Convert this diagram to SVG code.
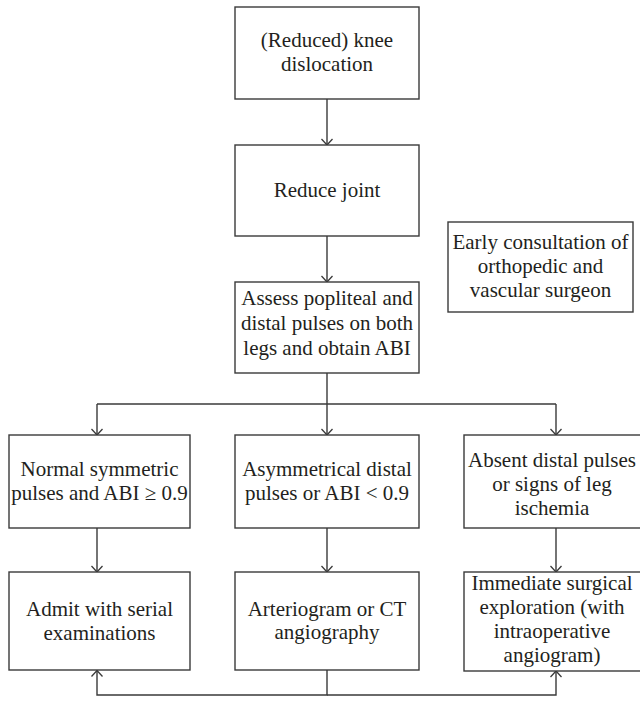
<svg xmlns="http://www.w3.org/2000/svg" width="640" height="708" viewBox="0 0 640 708">
<defs>
<marker id="arr" viewBox="0 0 8 12" markerWidth="8" markerHeight="12" refX="7" refY="6" orient="auto" markerUnits="userSpaceOnUse">
<path d="M1,0.5 L7,6 L1,11.5" fill="none" stroke="#3a3a3a" stroke-width="1.3"/>
</marker>
<style>
rect.box{fill:#fff;stroke:#3a3a3a;stroke-width:1.4}
.conn path{fill:none;stroke:#3a3a3a;stroke-width:1.4}
</style>
</defs>
<rect width="640" height="708" fill="#fff"/>
<g class="conn">
<path d="M327,99 V145" marker-end="url(#arr)"/>
<path d="M327,236 V282" marker-end="url(#arr)"/>
<path d="M327,373 V404"/>
<path d="M97,404 H556"/>
<path d="M97,404 V435" marker-end="url(#arr)"/>
<path d="M327,404 V435" marker-end="url(#arr)"/>
<path d="M556,404 V435" marker-end="url(#arr)"/>
<path d="M97,528 V572" marker-end="url(#arr)"/>
<path d="M327,528 V572" marker-end="url(#arr)"/>
<path d="M556,528 V572" marker-end="url(#arr)"/>
<path d="M327,670 V695 H97 V670.5" marker-end="url(#arr)"/>
<path d="M327,695 H556 V671" marker-end="url(#arr)"/>
</g>
<g font-family="'Liberation Serif', 'DejaVu Serif', serif" font-size="21" fill="#231f20" text-anchor="middle">
<g id="n1"><rect class="box" x="235" y="7" width="184" height="92"/>
<text x="327" y="47">(Reduced) knee</text><text x="327" y="71">dislocation</text></g>
<g id="n2"><rect class="box" x="235" y="145" width="184" height="91"/>
<text x="327" y="197">Reduce joint</text></g>
<g id="n3"><rect class="box" x="235" y="282" width="184" height="91"/>
<text x="327" y="305">Assess popliteal and</text><text x="327" y="330">distal pulses on both</text><text x="327" y="355">legs and obtain ABI</text></g>
<g id="n4"><rect class="box" x="448" y="222" width="185" height="90"/>
<text x="540.5" y="249">Early consultation of</text><text x="540.5" y="273">orthopedic and</text><text x="540.5" y="297">vascular surgeon</text></g>
<g id="n5"><rect class="box" x="9" y="435" width="181" height="93"/>
<text x="99.5" y="476">Normal symmetric</text><text x="99.5" y="500">pulses and ABI ≥ 0.9</text></g>
<g id="n6"><rect class="box" x="235" y="435" width="184" height="93"/>
<text x="327" y="476">Asymmetrical distal</text><text x="327" y="500">pulses or ABI &lt; 0.9</text></g>
<g id="n7"><rect class="box" x="464" y="435" width="200" height="93"/>
<text x="552" y="467">Absent distal pulses</text><text x="552" y="491">or signs of leg</text><text x="552" y="515">ischemia</text></g>
<g id="n8"><rect class="box" x="9" y="572" width="181" height="98"/>
<text x="99.5" y="616">Admit with serial</text><text x="99.5" y="640">examinations</text></g>
<g id="n9"><rect class="box" x="235" y="572" width="184" height="98"/>
<text x="327" y="616">Arteriogram or CT</text><text x="327" y="639">angiography</text></g>
<g id="n10"><rect class="box" x="464" y="572" width="200" height="99"/>
<text x="552" y="590">Immediate surgical</text><text x="552" y="614">exploration (with</text><text x="552" y="638">intraoperative</text><text x="552" y="662">angiogram)</text></g>
</g>
</svg>
